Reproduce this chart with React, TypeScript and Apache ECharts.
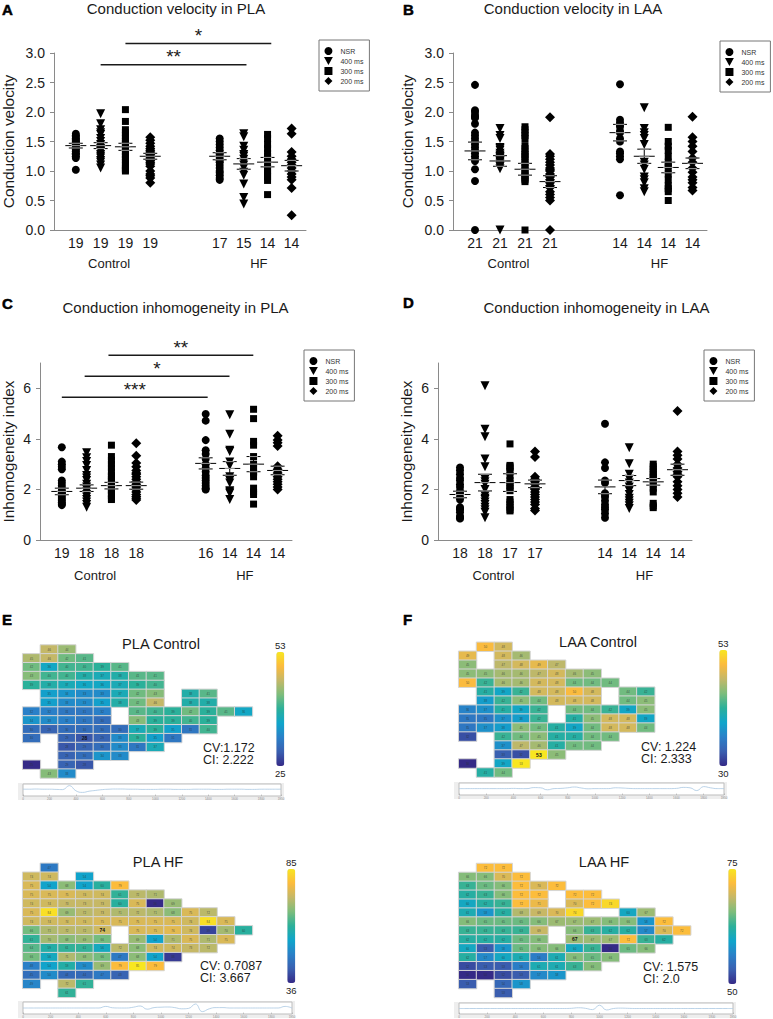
import React, { useEffect, useRef } from "react";
import * as echarts from "echarts";

const FONT = '"Liberation Sans", Arial, sans-serif';

// ---------- panel A-D data ----------
const seriesNames = ["NSR", "400 ms", "300 ms", "200 ms"];
const columnSlots = [0, 1, 2, 3, 5.8, 6.77, 7.73, 8.7];
const groupNames = ["Control", "HF"];
const groupSlots = [1.34, 7.38];

const countsA = [19, 19, 19, 19, 17, 15, 14, 14];
const countsB = [21, 21, 21, 21, 14, 14, 14, 14];
const countsC = [19, 18, 18, 18, 16, 14, 14, 14];
const countsD = [18, 18, 17, 17, 14, 14, 14, 14];

const valuesA = [
  [1.02,1.22,1.25,1.28,1.3,1.33,1.36,1.38,1.4,1.43,1.45,1.47,1.49,1.51,1.53,1.55,1.58,1.6,1.63],
  [1.97,1.8,1.7,1.65,1.62,1.55,1.5,1.45,1.42,1.38,1.35,1.33,1.28,1.25,1.22,1.18,1.15,1.1,1.05],
  [2.04,1.84,1.7,1.65,1.6,1.55,1.5,1.46,1.42,1.38,1.33,1.28,1.25,1.2,1.15,1.1,1.05,1.02,1.0],
  [1.57,1.52,1.47,1.42,1.38,1.35,1.32,1.28,1.25,1.22,1.18,1.15,1.12,1.08,1.0,0.95,0.92,0.88,0.8],
  [1.55,1.5,1.45,1.4,1.35,1.3,1.27,1.22,1.18,1.15,1.1,1.05,1.0,0.97,0.93,0.88,0.85],
  [1.63,1.58,1.42,1.35,1.28,1.25,1.2,1.15,1.1,1.05,0.98,0.93,0.78,0.55,0.44],
  [1.62,1.55,1.45,1.38,1.3,1.25,1.2,1.12,1.05,1.0,0.95,0.9,0.84,0.6],
  [1.72,1.63,1.32,1.25,1.2,1.15,1.1,1.05,1.0,0.95,0.9,0.85,0.71,0.25],
];
const valuesB = [
  [2.46,2.03,2.0,1.95,1.92,1.9,1.8,1.65,1.6,1.55,1.5,1.45,1.4,1.35,1.3,1.25,1.2,1.17,1.03,0.83,0],
  [1.72,1.6,1.55,1.4,1.38,1.35,1.3,1.27,1.25,1.24,1.22,1.2,1.18,1.17,1.15,1.12,1.1,1.09,1.07,1.04,0],
  [1.75,1.7,1.65,1.6,1.55,1.43,1.38,1.32,1.28,1.25,1.2,1.15,1.1,1.05,1.0,0.95,0.92,0.88,0.85,0.82,0],
  [1.91,1.29,1.25,1.2,1.15,1.1,1.05,1.02,1.0,0.95,0.92,0.9,0.85,0.8,0.75,0.72,0.65,0.6,0.55,0.5,0],
  [2.47,1.87,1.82,1.78,1.75,1.68,1.65,1.55,1.5,1.33,1.3,1.25,1.2,0.59],
  [2.07,1.72,1.65,1.6,1.55,1.45,1.15,1.1,1.03,0.9,0.85,0.8,0.7,0.65],
  [1.74,1.5,1.42,1.35,1.25,1.15,1.1,1.05,0.95,0.85,0.75,0.7,0.65,0.5],
  [1.92,1.57,1.5,1.42,1.33,1.22,1.15,1.05,0.98,0.9,0.85,0.8,0.72,0.67],
];
const valuesC = [
  [3.67,3.1,3.0,2.9,2.8,2.35,2.25,2.15,2.05,1.95,1.9,1.85,1.78,1.7,1.62,1.55,1.48,1.42,1.38],
  [3.45,3.25,3.1,2.95,2.75,2.55,2.45,2.35,2.2,2.1,2.0,1.9,1.8,1.7,1.6,1.5,1.4,1.3],
  [3.75,3.3,3.15,3.0,2.85,2.7,2.55,2.5,2.4,2.3,2.2,2.1,2.0,1.95,1.85,1.75,1.65,1.6],
  [3.83,3.33,3.05,2.9,2.75,2.65,2.6,2.5,2.4,2.3,2.2,2.1,2.0,1.9,1.8,1.72,1.65,1.58],
  [4.98,4.72,3.95,3.55,3.4,3.2,3.0,2.85,2.7,2.55,2.45,2.35,2.25,2.15,2.05,2.0],
  [4.95,4.18,3.55,3.5,3.08,2.95,2.5,2.4,2.35,2.25,1.95,1.9,1.85,1.6],
  [5.17,4.8,3.9,3.75,3.3,3.0,2.85,2.7,2.65,2.5,2.05,1.9,1.8,1.42],
  [4.12,3.95,3.85,3.72,2.92,2.8,2.75,2.65,2.5,2.4,2.3,2.2,2.1,2.0],
];
const valuesD = [
  [2.87,2.75,2.6,2.45,2.35,2.2,2.1,1.95,1.85,1.7,1.6,1.3,1.25,1.2,1.1,0.95,0.88,0.85],
  [6.1,4.38,4.08,3.2,2.9,2.4,2.3,2.2,2.0,1.75,1.65,1.6,1.5,1.4,1.3,1.2,1.1,0.88],
  [3.8,2.95,2.9,2.85,2.7,2.55,2.35,2.25,2.15,2.05,1.95,1.6,1.5,1.4,1.3,1.2,1.15],
  [3.5,3.28,2.5,2.4,2.3,2.2,2.1,2.05,2.0,1.9,1.8,1.7,1.6,1.5,1.4,1.25,1.17],
  [4.6,3.07,2.85,2.35,2.25,1.85,1.8,1.7,1.55,1.4,1.3,1.2,1.05,0.88],
  [3.65,3.02,2.6,2.4,2.25,2.1,2.0,1.95,1.8,1.65,1.55,1.45,1.35,1.25],
  [3.0,2.9,2.8,2.7,2.6,2.5,2.45,2.35,2.2,2.05,1.9,1.45,1.35,1.28],
  [5.1,3.5,3.35,3.2,3.0,2.85,2.7,2.6,2.5,2.3,2.15,2.0,1.85,1.7],
];

const meansA = [1.43, 1.43, 1.41, 1.25, 1.25, 1.12, 1.15, 1.09];
const semsA = [0.04, 0.05, 0.06, 0.05, 0.06, 0.09, 0.08, 0.09];
const meansB = [1.34, 1.17, 1.03, 0.82, 1.65, 1.25, 1.06, 1.13];
const semsB = [0.15, 0.09, 0.1, 0.1, 0.14, 0.12, 0.09, 0.09];
const meansC = [1.92, 2.05, 2.15, 2.15, 3.03, 2.83, 3.0, 2.75];
const semsC = [0.13, 0.13, 0.13, 0.14, 0.22, 0.27, 0.3, 0.17];
const meansD = [1.8, 2.27, 2.27, 2.22, 2.1, 2.35, 2.3, 2.78];
const semsD = [0.13, 0.33, 0.35, 0.15, 0.27, 0.2, 0.13, 0.22];

// [from slot, to slot, height, stars]
const sigBarsA: [number, number, number, string][] = [
  [2.0, 7.88, 3.16, "*"],
  [1.0, 6.88, 2.8, "**"],
];
const sigBarsC: [number, number, number, string][] = [
  [1.88, 7.72, 7.31, "**"],
  [0.92, 6.76, 6.48, "*"],
  [0, 5.88, 5.65, "***"],
];

const cvTicks = [0, 0.5, 1, 1.5, 2, 2.5, 3];
const ciTicks = [0, 2, 4, 6];

// ---------- panel E-F maps ----------
const _ = null;
const mapPlaControl = [
  [_,46,44,_,_,_,_,_,_,_,_,_,_],
  [45,46,42,41,_,_,_,_,_,_,_,_,_],
  [42,36,40,40,39,41,_,_,_,_,_,_,_],
  [43,40,40,38,37,38,41,41,_,_,_,_,_],
  [39,38,37,36,36,37,39,40,_,_,_,_,_],
  [_,35,34,33,33,37,42,43,_,38,41,_,_],
  [_,35,33,33,35,38,42,46,_,38,38,_,_],
  [32,32,31,31,32,_,41,40,39,42,39,41,36],
  [34,33,32,31,30,_,43,39,39,40,39,_,_],
  [30,29,30,30,30,30,37,39,35,31,40,_,_],
  [30,_,29,28,29,33,39,35,31,_,_,_,_],
  [_,_,28,29,30,33,31,37,_,_,_,_,_],
  [_,_,29,30,34,33,_,_,_,_,_,_,_],
  [25,_,29,28,_,_,_,_,_,_,_,_,_],
  [_,43,33,_,_,_,_,_,_,_,_,_,_],
];
const mapLaaControl = [
  [_,50,48,_,_,_,_,_,_,_,_],
  [49,_,48,46,_,_,_,_,_,_,_],
  [45,_,47,48,49,47,_,_,_,_,_],
  [45,45,46,46,47,48,46,45,_,_,_],
  [50,42,46,46,48,48,44,44,44,_,_],
  [_,41,39,42,48,48,50,48,_,44,42],
  [_,38,42,45,44,48,48,48,_,44,45],
  [36,37,41,39,42,_,44,44,42,39,45],
  [35,35,37,38,42,_,41,45,48,48,39],
  [35,37,38,45,44,41,39,44,48,48,44],
  [32,_,42,44,45,41,41,44,44,_,_],
  [_,_,37,47,46,41,44,44,_,_,_],
  [_,_,33,32,53,45,_,_,_,_,_],
  [30,_,39,53,_,_,_,_,_,_,_],
  [_,41,44,_,_,_,_,_,_,_,_],
];
const mapPlaHf = [
  [_,47,_,_,_,_,_,_,_,_,_,_,_],
  [74,74,_,54,_,_,_,_,_,_,_,_,_],
  [75,54,68,54,60,79,_,_,_,_,_,_,_],
  [75,75,75,74,74,61,72,71,_,_,_,_,_],
  [74,74,73,73,73,60,75,36,69,_,_,_,_],
  [75,84,69,72,73,71,72,71,68,75,72,_,_],
  [74,74,74,74,75,75,75,75,75,74,84,75,_],
  [66,71,72,72,74,_,75,75,76,74,39,70,60],
  [61,70,68,69,66,_,69,54,71,75,71,75,_],
  [64,59,61,61,56,72,68,74,74,73,72,_,_],
  [66,56,71,68,66,47,68,54,38,_,_,_,_],
  [48,54,59,50,69,79,85,79,_,_,_,_,_],
  [45,50,44,44,47,43,_,_,_,_,_,_,_],
  [49,_,72,61,_,_,_,_,_,_,_,_,_],
  [_,_,61,_,_,_,_,_,_,_,_,_,_],
];
const mapLaaHf = [
  [_,72,72,_,_,_,_,_,_,_,_,_,_],
  [66,66,70,72,_,_,_,_,_,_,_,_,_],
  [63,65,66,72,70,72,_,_,_,_,_,_,_],
  [62,63,66,72,72,_,72,72,_,_,_,_,_],
  [60,62,63,72,71,_,70,72,74,_,_,_,_],
  [61,58,62,68,69,70,74,_,_,60,67,_,_],
  [66,65,65,65,66,67,67,67,66,66,58,72,_],
  [63,63,63,63,69,_,66,63,62,62,57,70,72],
  [62,62,62,65,66,_,67,67,67,72,63,62,_],
  [60,53,58,65,66,66,60,63,50,65,66,_,_],
  [62,57,60,61,56,61,66,65,66,_,_,_,_],
  [52,53,53,56,61,61,63,66,_,_,_,_,_],
  [50,50,52,53,57,58,_,_,_,_,_,_,_],
  [53,_,54,58,_,_,_,_,_,_,_,_,_],
  [_,_,53,_,_,_,_,_,_,_,_,_,_],
];
const tracePlaControl = [0.2,0.2,0.25,0.2,0.2,0.15,0.1,1.1,-0.2,-0.6,-0.3,-0.1,0.1,0.2,0.25,0.25,0.2,0.2,0.15,0.15,0.15,0.2,0.2,0.15,0.15,0.15,0.2,0.2,0.2,0.15,0.15,0.2,0.2,0.2,0.15,0.15,0.2,0.2,0.2,0.2];
const traceLaaControl = [0.1,0.1,0.1,0.1,0.1,0.1,0.1,0.1,0.15,0.1,0.1,0.35,0.3,-0.2,0.1,0.15,0.3,0.5,0.25,0.05,0.1,0.1,0.1,0.3,0.25,0.15,0.1,0.1,0.1,0.1,0.1,0.1,0.15,0.4,0.3,-0.4,0.6,0.3,0.1,0.1];
const tracePlaHf = [0,0,0,0,0,0,0,0,0,0,0,0,0.4,0.05,0,0,0.2,0.5,-0.3,0.1,0.2,0.25,0.1,-0.2,-0.1,1.0,-0.9,-0.2,0.1,0.1,0,0,0,0,0,0,0,0,0.4,0];
const traceLaaHf = [0,0,0,0,0,0,0,0,0,0,0,0,0,0,0,0,0.05,0.2,0.05,-0.3,0.9,-0.4,0,0.1,0.05,0,0,0,0,0,0,0,0,0,0,0,0,0,0,0];

const parula = ["#352a87","#3a5fb0","#2a80c8","#0fa5cb","#2bb09a","#7cbd7c","#c4b868","#fcbb3d","#f8e620"];

const inverted = "path://M0,0L10,0L5,9Z";
const symbols = ["circle", inverted, "rect", "diamond"];
const legendIcons = ["circle", inverted, "path://M0,0L10,0L10,10L0,10Z", "path://M5,0L10,5L5,10L0,5Z"];
const symbolSizes = [8, 9, 7, 10];

const App = () => {
  const ref = useRef<HTMLDivElement>(null);
  useEffect(() => {
    document.body.style.margin = "0";
    const chart = echarts.init(ref.current!, undefined, { renderer: "svg" });

    const grid: any[] = [];
    const xAxis: any[] = [];
    const yAxis: any[] = [];
    const series: any[] = [];
    const legend: any[] = [];
    const visualMap: any[] = [];
    const graphic: any[] = [];

    const text = (t: string, x: number, y: number, fontSize: number, extra: any = {}) =>
      graphic.push({
        type: "text",
        x,
        y,
        z: 20,
        style: { text: t, fontSize, fontFamily: FONT, fill: "#1a1a1a", textAlign: "left", textVerticalAlign: "middle", ...extra },
      });

    const scatterPanels = [
      { left: 52, top: 53, h: 177, ymax: 3, name: "Conduction velocity", gap: 38, values: valuesA, means: meansA, sems: semsA, counts: countsA, ticks: cvTicks, fmt: (v: number) => v.toFixed(1), legend: [319, 40], sig: sigBarsA, groupMargin: 27 },
      { left: 453, top: 53, h: 177, ymax: 3, name: "Conduction velocity", gap: 38, values: valuesB, means: meansB, sems: semsB, counts: countsB, ticks: cvTicks, fmt: (v: number) => v.toFixed(1), legend: [720, 41], sig: null, groupMargin: 27 },
      { left: 38, top: 363, h: 177, ymax: 7, name: "Inhomogeneity index", gap: 24, values: valuesC, means: meansC, sems: semsC, counts: countsC, ticks: ciTicks, fmt: (v: number) => String(v), legend: [304, 350], sig: sigBarsC, groupMargin: 29 },
      { left: 438, top: 363, h: 177, ymax: 7, name: "Inhomogeneity index", gap: 24, values: valuesD, means: meansD, sems: semsD, counts: countsD, ticks: ciTicks, fmt: (v: number) => String(v), legend: [704, 350], sig: null, groupMargin: 29 },
    ];

    scatterPanels.forEach((p) => {
      const gridIndex = grid.length;
      grid.push({ left: p.left, top: p.top, width: 254, height: p.h });
      const xIndex = xAxis.length;
      const axisLine = { show: true, onZero: false, lineStyle: { color: "#8a8a8a", width: 1 } };
      xAxis.push({
        type: "value", gridIndex, position: "bottom", min: -0.88, max: 9.28, splitLine: { show: false }, axisLine, axisTick: { show: false },
        axisLabel: {
          customValues: columnSlots, margin: 6, fontSize: 14, fontFamily: FONT, color: "#1a1a1a",
          formatter: (v: number) => String(p.counts[columnSlots.indexOf(v)]),
        },
      });
      xAxis.push({
        type: "value", gridIndex, position: "bottom", min: -0.88, max: 9.28, splitLine: { show: false }, axisLine: { show: false, onZero: false }, axisTick: { show: false },
        axisLabel: {
          customValues: groupSlots, margin: p.groupMargin, fontSize: 13, fontFamily: FONT, color: "#1a1a1a",
          formatter: (v: number) => groupNames[groupSlots.indexOf(v)],
        },
      });
      const yIndex = yAxis.length;
      yAxis.push({
        type: "value", gridIndex, position: "left", min: 0, max: p.ymax, name: p.name, nameLocation: "middle", nameGap: p.gap,
        nameTextStyle: { fontSize: 15.4, fontFamily: FONT, color: "#1a1a1a" },
        splitLine: { show: false }, axisLine,
        axisTick: { show: true, length: 4, customValues: p.ticks, lineStyle: { color: "#8a8a8a" } },
        axisLabel: { customValues: p.ticks, margin: 9, fontSize: 14, fontFamily: FONT, color: "#1a1a1a", formatter: p.fmt },
      });
      seriesNames.forEach((name, s) => {
        const data: number[][] = [];
        [s, s + 4].forEach((col) => p.values[col].forEach((v) => data.push([columnSlots[col], v])));
        series.push({
          type: "scatter", name, xAxisIndex: xIndex, yAxisIndex: yIndex, data,
          symbol: symbols[s], symbolSize: symbolSizes[s], itemStyle: { color: "#000", opacity: 1 }, clip: false,
        });
      });
      series.push({
        type: "custom", xAxisIndex: xIndex, yAxisIndex: yIndex, z: 5,
        data: p.means.map((m, c) => [columnSlots[c], m, p.sems[c]]),
        encode: { x: 0, y: 1 },
        renderItem: (_p: any, api: any) => {
          const x = api.value(0), m = api.value(1), e = api.value(2);
          const [cx, cy] = api.coord([x, m]);
          const top = api.coord([x, m + e])[1];
          const bot = api.coord([x, m - e])[1];
          const seg = (x1: number, y1: number, x2: number, y2: number, stroke: string) => ({
            type: "line", shape: { x1, y1, x2, y2 }, style: { stroke, lineWidth: 1 },
          });
          const inner = "#9a9a9a";
          return {
            type: "group",
            children: [
              seg(cx, top, cx, bot, "#000"),
              seg(cx - 10.5, cy, cx + 10.5, cy, "#000"),
              seg(cx - 7, top, cx + 7, top, "#000"),
              seg(cx - 7, bot, cx + 7, bot, "#000"),
              seg(cx - 5, cy, cx + 5, cy, inner),
              seg(cx - 4.5, top, cx + 4.5, top, inner),
              seg(cx - 4.5, bot, cx + 4.5, bot, inner),
            ],
          };
        },
      });
      if (p.sig) {
        const sig = p.sig;
        series.push({
          type: "custom", xAxisIndex: xIndex, yAxisIndex: yIndex, z: 6, clip: false,
          data: sig.map((b) => [b[0], b[1], b[2]]),
          encode: { x: [0, 1], y: 2 },
          renderItem: (params: any, api: any) => {
            const a = api.coord([api.value(0), api.value(2)]);
            const b = api.coord([api.value(1), api.value(2)]);
            return {
              type: "group",
              children: [
                { type: "line", shape: { x1: a[0], y1: a[1], x2: b[0], y2: b[1] }, style: { stroke: "#1a1a1a", lineWidth: 1.5 } },
                { type: "text", style: { text: sig[params.dataIndex][3], x: (a[0] + b[0]) / 2, y: a[1] - 8, fontSize: 19, fontFamily: FONT, fill: "#1a1a1a", textAlign: "center", textVerticalAlign: "middle" } },
              ],
            };
          },
        });
      }
      legend.push({
        left: p.legend[0], top: p.legend[1], orient: "vertical", padding: [7, 6, 6, 5],
        itemWidth: 14, itemHeight: 8, itemGap: 2, selectedMode: false,
        borderColor: "#777", borderWidth: 1, backgroundColor: "#fff",
        textStyle: { fontSize: 7, fontFamily: FONT, color: "#333" },
        data: seriesNames.map((name, s) => ({ name, icon: legendIcons[s] })),
      });
    });

    const mapPanels = [
      { m: mapPlaControl, left: 22.7, top: 645, w: 229.7, h: 133, min: 25, max: 53, bar: [275, 640, 114], bold: [3, 10], strip: [18, 783, 266, 17], trace: tracePlaControl },
      { m: mapLaaControl, left: 458.7, top: 642.3, w: 196, h: 134.7, min: 30, max: 53, bar: [718, 638, 116], bold: [4, 12], strip: [454, 782, 273, 17], trace: traceLaaControl },
      { m: mapPlaHf, left: 22.7, top: 863.3, w: 229.7, h: 134, min: 36, max: 85, bar: [286, 857, 114], bold: [4, 7], strip: [18, 1001, 277, 17], trace: tracePlaHf },
      { m: mapLaaHf, left: 458.7, top: 863.5, w: 232, h: 134, min: 50, max: 75, bar: [727, 857, 115], bold: [6, 8], strip: [454, 1002, 282, 16], trace: traceLaaHf },
    ];

    mapPanels.forEach((p) => {
      const gridIndex = grid.length;
      grid.push({ left: p.left, top: p.top, width: p.w, height: p.h });
      const xIndex = xAxis.length, yIndex = yAxis.length;
      const cols = p.m[0].map((_v, c) => String(c));
      const rows = p.m.map((_v, r) => String(r));
      xAxis.push({ type: "category", gridIndex, data: cols, show: false });
      yAxis.push({ type: "category", gridIndex, data: rows, inverse: true, show: false });
      const data: any[] = [];
      p.m.forEach((row, r) =>
        row.forEach((v, c) => {
          if (v === null) return;
          const isBold = c === p.bold[0] && r === p.bold[1];
          data.push({
            value: [c, r, v],
            label: isBold ? { fontSize: 5, fontWeight: "bold", color: "#111" } : undefined,
          });
        })
      );
      visualMap.push({
        type: "continuous", seriesIndex: series.length, dimension: 2, min: p.min, max: p.max,
        left: p.bar[0], top: p.bar[1], itemWidth: 8, itemHeight: p.bar[2], padding: 0, calculable: false, realtime: false,
        text: [String(p.max), String(p.min)], textGap: 2,
        textStyle: { fontSize: 9.5, fontFamily: FONT, color: "#222" },
        inRange: { color: parula },
      });
      series.push({
        type: "heatmap", xAxisIndex: xIndex, yAxisIndex: yIndex, data,
        itemStyle: { borderColor: "#d5d5d5", borderWidth: 1 },
        label: { show: true, fontSize: 3, fontFamily: FONT, color: "rgba(40,50,50,0.75)", formatter: (q: any) => String(q.value[2]) },
        emphasis: { disabled: true },
      });

      // activation trace strip underneath the map
      const [sx, sy, sw, sh] = p.strip;
      graphic.push({ type: "rect", z: -5, shape: { x: sx, y: sy, width: sw, height: sh }, style: { fill: "#eeeeee" } });
      const stripGrid = grid.length;
      grid.push({ left: sx + 5, top: sy + 1, width: sw - 8, height: sh - 5, show: true, backgroundColor: "#fff", borderColor: "#bdbdbd", borderWidth: 1 });
      const sxIndex = xAxis.length, syIndex = yAxis.length;
      xAxis.push({
        type: "value", gridIndex: stripGrid, position: "bottom", min: 0, max: p.trace.length - 1, interval: 4, splitLine: { show: false },
        axisLine: { show: false, onZero: false }, axisTick: { show: true, inside: true, length: 1.5, lineStyle: { color: "#999", width: 0.5 } },
        axisLabel: { show: true, fontSize: 3, margin: 1, color: "#888", fontFamily: FONT, formatter: (v: number) => String(v * 50) },
      });
      yAxis.push({ type: "value", gridIndex: stripGrid, min: -1.5, max: 1.5, interval: 1.5, show: false });
      series.push({
        type: "line", xAxisIndex: sxIndex, yAxisIndex: syIndex, showSymbol: false, smooth: true,
        data: p.trace.map((v, k) => [k, v]), lineStyle: { color: "#a9c8e2", width: 0.8 },
      });
    });

    // panel letters
    [["A", 2, 9], ["B", 403, 9], ["C", 2, 303], ["D", 403, 302], ["E", 2, 619], ["F", 403, 619]].forEach(([t, x, y]) =>
      text(t as string, x as number, y as number, 15, { fontWeight: "bold", fill: "#000", stroke: "#000", lineWidth: 0.5 })
    );
    // panel titles
    text("Conduction velocity in PLA", 176, 8, 15, { textAlign: "center" });
    text("Conduction velocity in LAA", 573, 8, 15, { textAlign: "center" });
    text("Conduction inhomogeneity in PLA", 175.5, 307, 15, { textAlign: "center" });
    text("Conduction inhomogeneity in LAA", 596.5, 307, 15, { textAlign: "center" });
    text("PLA Control", 161, 644, 14.6, { textAlign: "center" });
    text("LAA Control", 598, 642, 14.6, { textAlign: "center" });
    text("PLA HF", 158, 862, 14.6, { textAlign: "center" });
    text("LAA HF", 604, 862, 14.6, { textAlign: "center" });
    // conduction values
    text("CV:1.172", 203, 748, 12.5);
    text("CI: 2.222", 203, 760, 12.5);
    text("CV: 1.224", 641, 747, 12.5);
    text("CI: 2.333", 641, 759, 12.5);
    text("CV: 0.7087", 200, 966, 12.5);
    text("CI: 3.667", 200, 978, 12.5);
    text("CV: 1.575", 643, 967, 12.5);
    text("CI: 2.0", 643, 979, 12.5);

    chart.setOption({ animation: false, backgroundColor: "#fff", grid, xAxis, yAxis, series, legend, visualMap, graphic });
    return () => chart.dispose();
  }, []);
  return <div ref={ref} style={{ position: "absolute", left: 0, top: 0, width: 773, height: 1019 }} />;
};

export default App;
